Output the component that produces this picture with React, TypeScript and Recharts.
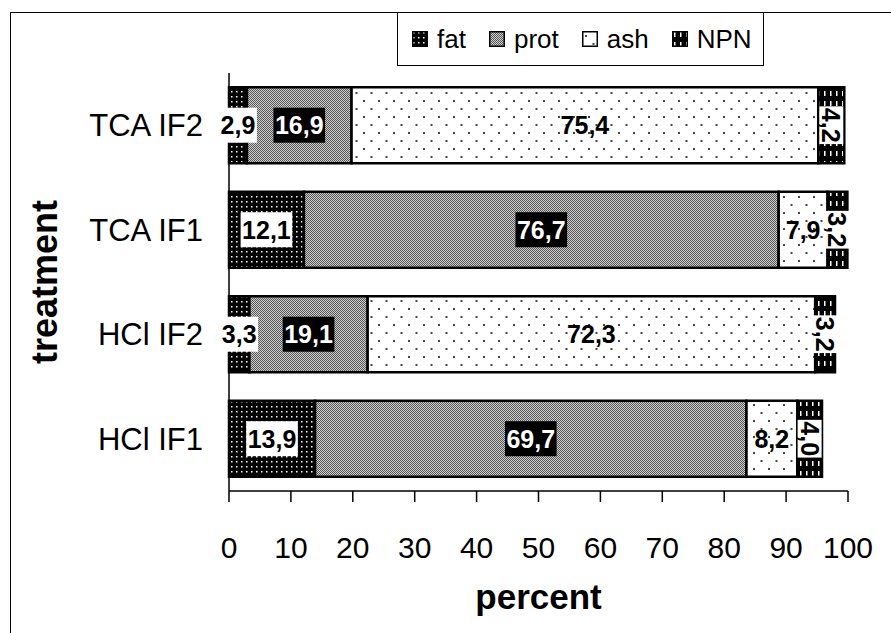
import React from "react";
import { BarChart, Bar, XAxis, YAxis, LabelList } from "recharts";

const treatments = ["TCA IF2", "TCA IF1", "HCl IF2", "HCl IF1"];
const fat = [2.9, 12.1, 3.3, 13.9];
const prot = [16.9, 76.7, 19.1, 69.7];
const ash = [75.4, 7.9, 72.3, 8.2];
const npn = [4.2, 3.2, 3.2, 4.0];
const percentTicks = [0, 10, 20, 30, 40, 50, 60, 70, 80, 90, 100];

const data = treatments.map((name, i) => ({
  name,
  fat: fat[i],
  prot: prot[i],
  ash: ash[i],
  NPN: npn[i],
}));

const series = [
  { key: "fat", fill: "url(#pFat)" },
  { key: "prot", fill: "url(#pProt)" },
  { key: "ash", fill: "url(#pAsh)" },
  { key: "NPN", fill: "url(#pNpn)" },
];

const FONT = '"Liberation Sans", Arial, sans-serif';
const fmt = (v: number) => v.toFixed(1).replace(".", ",");
// rough bold Arial advance widths, in em
const textWidth = (s: string, fs: number) =>
  s.split("").reduce((w, c) => w + (c === "," ? 0.278 : 0.556), 0) * fs;

const Patterns = () => (
  <svg width={0} height={0} style={{ position: "absolute" }}>
    <defs>
      <pattern id="pFat" width={5} height={5} patternUnits="userSpaceOnUse">
        <rect width={5} height={5} fill="#000" />
        <rect x={1} y={1} width={1.5} height={1.5} fill="#fff" />
      </pattern>
      <pattern id="pProt" width={2} height={2} patternUnits="userSpaceOnUse">
        <rect width={2} height={2} fill="#d0d0d0" />
        <rect width={1} height={1} fill="#555" />
        <rect x={1} y={1} width={1} height={1} fill="#555" />
      </pattern>
      <pattern id="pAsh" width={15} height={16} patternUnits="userSpaceOnUse">
        <rect width={15} height={16} fill="#fff" />
        <rect x={3} y={4} width={2} height={2} fill="#444" />
        <rect x={10.5} y={12} width={2} height={2} fill="#444" />
      </pattern>
      <pattern id="pNpn" width={6} height={10} patternUnits="userSpaceOnUse">
        <rect width={6} height={10} fill="#000" />
        <rect x={2} y={1} width={1.5} height={5} fill="#fff" />
      </pattern>
    </defs>
  </svg>
);

const makeLabel = (kind: string) => (props: any) => {
  const { x, y, width, height, value } = props;
  const cx = x + width / 2;
  const cy = y + height / 2;
  const txt = fmt(value);
  const fs = 25;
  const w = textWidth(txt, fs) + 3;
  const h = 35;
  if (kind === "NPN") {
    return (
      <g transform={`translate(${cx},${cy}) rotate(90)`}>
        <rect x={-w / 2} y={-12} width={w} height={24} fill="#fff" />
        <text x={0} y={0} dy="0.36em" textAnchor="middle" fontSize={fs} fontWeight="bold" fontFamily={FONT} fill="#000">
          {txt}
        </text>
      </g>
    );
  }
  const bg = kind === "fat" ? "#fff" : kind === "prot" ? "#000" : "none";
  const fg = kind === "prot" ? "#fff" : "#000";
  return (
    <g>
      {bg !== "none" && <rect x={cx - w / 2} y={cy - h / 2} width={w} height={h} fill={bg} />}
      <text x={cx} y={cy} dy="0.36em" textAnchor="middle" fontSize={fs} fontWeight="bold" fontFamily={FONT} fill={fg}>
        {txt}
      </text>
    </g>
  );
};

const LegendBox = () => (
  <div
    style={{
      position: "absolute",
      left: 397,
      top: 13,
      width: 367,
      height: 53,
      display: "flex",
      alignItems: "center",
      border: "1.5px solid #000",
      borderTop: "none",
      background: "#fff",
      paddingLeft: 14,
      fontFamily: FONT,
      fontSize: 26,
      color: "#000",
      boxSizing: "border-box",
    }}
  >
    {series.map((s) => (
      <span key={s.key} style={{ display: "flex", alignItems: "center", marginRight: 23 }}>
        <svg width={16} height={16} style={{ marginRight: 9 }}>
          <rect x={0.75} y={0.75} width={14.5} height={14.5} fill={s.fill} stroke="#000" strokeWidth={1.5} />
        </svg>
        {s.key}
      </span>
    ))}
  </div>
);

export default function App() {
  return (
    <div style={{ position: "absolute", left: 0, top: 0, width: 891, height: 633, background: "#fff", overflow: "hidden" }}>
      <Patterns />
      <div
        style={{
          position: "absolute",
          left: 10,
          top: 12,
          width: 900,
          height: 700,
          borderTop: "1.5px solid #000",
          borderLeft: "1.5px solid #000",
        }}
      />
      <BarChart
        width={891}
        height={633}
        data={data}
        layout="vertical"
        margin={{ top: 73, right: 43, bottom: 0, left: 0 }}
        barCategoryGap="13.6%"
        style={{ position: "absolute", left: 0, top: 0 }}
      >
        <XAxis
          type="number"
          domain={[0, 100]}
          ticks={percentTicks}
          interval={0}
          height={142}
          tickSize={11}
          tickMargin={35}
          axisLine={{ stroke: "#000", strokeWidth: 1.5 }}
          tickLine={{ stroke: "#000", strokeWidth: 1.5 }}
          tick={{ fill: "#000", fontSize: 30, fontFamily: FONT }}
          label={{ value: "percent", position: "insideBottom", offset: 24, fill: "#000", fontSize: 35, fontWeight: "bold", fontFamily: FONT }}
        />
        <YAxis
          type="category"
          dataKey="name"
          width={229}
          tickSize={0}
          tickMargin={26}
          axisLine={{ stroke: "#000", strokeWidth: 1.5 }}
          tick={{ fill: "#000", fontSize: 31, fontFamily: FONT }}
          label={{
            content: (p: any) => {
              const vb = p.viewBox;
              const cy = vb.y + vb.height / 2;
              return (
                <text x={57} y={cy} transform={`rotate(-90 57 ${cy})`} textAnchor="middle" fontSize={36} fontWeight="bold" fontFamily={FONT} fill="#000">
                  treatment
                </text>
              );
            },
          }}
        />
        {series.map((s) => (
          <Bar key={s.key} dataKey={s.key} stackId="a" fill={s.fill} stroke="#000" strokeWidth={2.5} isAnimationActive={false}>
            <LabelList dataKey={s.key} content={makeLabel(s.key)} />
          </Bar>
        ))}
      </BarChart>
      <LegendBox />
    </div>
  );
}
